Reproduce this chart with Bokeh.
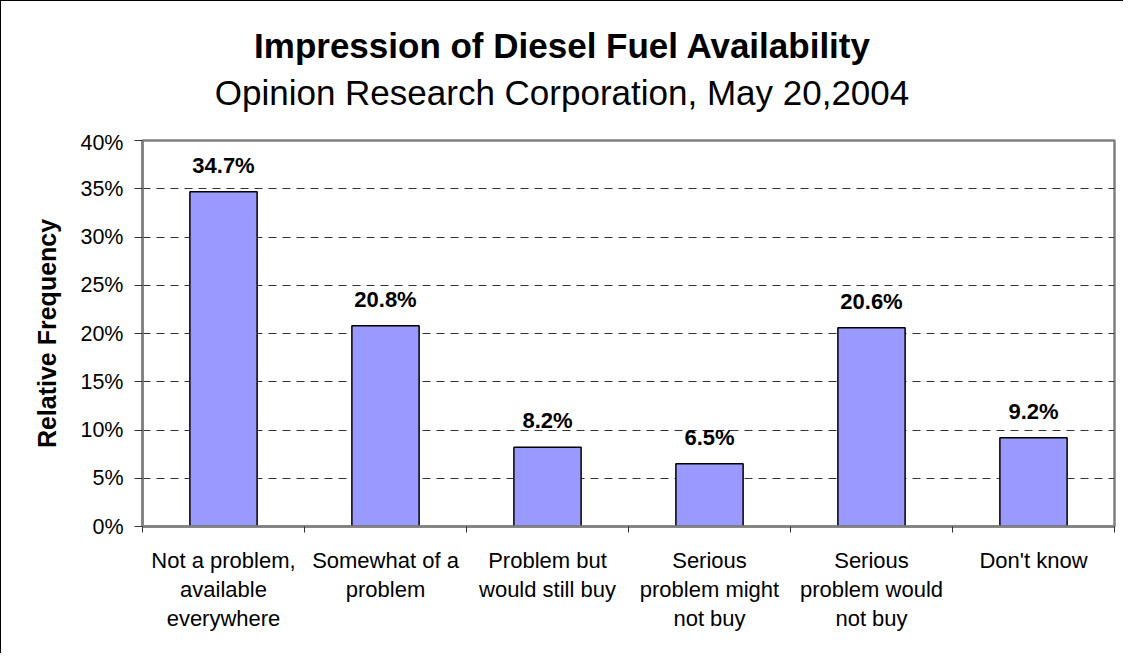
from bokeh.plotting import figure
from bokeh.layouts import column
from bokeh.models import (Range1d, FixedTicker, PrintfTickFormatter, Div,
                          ColumnDataSource, LabelSet)
from bokeh.core.properties import value
from bokeh.embed import file_html
from bokeh.resources import INLINE

title_text = "Impression of Diesel Fuel Availability"
subtitle_text = "Opinion Research Corporation, May 20,2004"
categories = [
    "Not a problem,\navailable\neverywhere",
    "Somewhat of a\nproblem",
    "Problem but\nwould still buy",
    "Serious\nproblem might\nnot buy",
    "Serious\nproblem would\nnot buy",
    "Don't know",
]
values = [34.7, 20.8, 8.2, 6.5, 20.6, 9.2]
value_labels = ["34.7%", "20.8%", "8.2%", "6.5%", "20.6%", "9.2%"]
y_ticks = [0, 5, 10, 15, 20, 25, 30, 35, 40]

FONT = "Liberation Sans"
n = len(categories)
xs = list(range(n))

header = Div(
    text=(f'<div style="font-family:\'{FONT}\';font-size:35px;line-height:47px;'
          f'color:#000;text-align:center;width:1122px;padding-top:21px;">'
          f'<div style="font-weight:bold;">{title_text}</div>'
          f'<div style="font-weight:normal;">{subtitle_text}</div></div>'),
    width=1122, height=129, margin=0,
)

p = figure(width=1122, height=523, output_backend="svg", toolbar_location=None,
           title=None,
           x_range=Range1d(-0.5, n - 0.5), y_range=Range1d(0, 40),
           min_border_left=141, min_border_right=9, min_border_top=10,
           min_border_bottom=127, margin=0)

src = ColumnDataSource(dict(x=xs, top=values, lab=value_labels))
p.vbar(x="x", top="top", width=0.415, bottom=0, source=src,
       fill_color="#9999FF", line_color="#000000", line_width=1.5)

labels = LabelSet(x="x", y="top", text="lab", source=src, text_align="center",
                  text_baseline="alphabetic", y_offset=19,
                  text_font=value(FONT), text_font_size=value("22px"),
                  text_font_style=value("bold"), text_color=value("#000000"))
p.add_layout(labels)

# grid
p.xgrid.grid_line_color = None
p.ygrid.ticker = FixedTicker(ticks=y_ticks)
p.ygrid.grid_line_color = "#333333"
p.ygrid.grid_line_dash = "8 6"
p.ygrid.grid_line_width = 1

# frame
p.outline_line_color = "#808080"
p.outline_line_width = 2.5
p.background_fill_color = "#FFFFFF"
p.border_fill_color = "#FFFFFF"

# y axis
p.yaxis.ticker = FixedTicker(ticks=y_ticks)
p.yaxis.formatter = PrintfTickFormatter(format="%d%%")
p.yaxis.axis_label = "Relative Frequency"
p.yaxis.axis_label_text_font = FONT
p.yaxis.axis_label_text_font_size = "25px"
p.yaxis.axis_label_text_font_style = "bold"
p.yaxis.axis_label_text_color = "#000000"
p.yaxis.axis_label_standoff = 16
p.yaxis.major_label_text_font = FONT
p.yaxis.major_label_text_font_size = "21.5px"
p.yaxis.major_label_text_color = "#000000"
p.yaxis.major_label_standoff = 11
p.yaxis.axis_line_color = "#808080"
p.yaxis.axis_line_width = 2.5
p.yaxis.major_tick_line_color = "#333333"
p.yaxis.major_tick_out = 8
p.yaxis.major_tick_in = 0
p.yaxis.minor_tick_line_color = None

# x axis
p.xaxis.ticker = FixedTicker(ticks=xs, minor_ticks=[i - 0.5 for i in range(n + 1)])
p.xaxis.major_label_overrides = {i: c for i, c in zip(xs, categories)}
p.xaxis.major_label_text_font = FONT
p.xaxis.major_label_text_font_size = "22px"
p.xaxis.major_label_text_color = "#000000"
p.xaxis.major_label_text_line_height = 1.16
p.xaxis.major_label_standoff = 15
p.xaxis.major_tick_out = 0
p.xaxis.major_tick_in = 0
p.xaxis.major_tick_line_color = None
p.xaxis.minor_tick_out = 6
p.xaxis.minor_tick_in = 0
p.xaxis.minor_tick_line_color = "#333333"
p.xaxis.axis_line_color = "#808080"
p.xaxis.axis_line_width = 2.5

layout = column(header, p, width=1123, height=653, spacing=0,
                styles={"border-left": "1px solid #000",
                        "border-top": "1px solid #000",
                        "box-sizing": "border-box",
                        "background-color": "#FFFFFF"})

open("out.html", "w").write(file_html(layout, INLINE))
